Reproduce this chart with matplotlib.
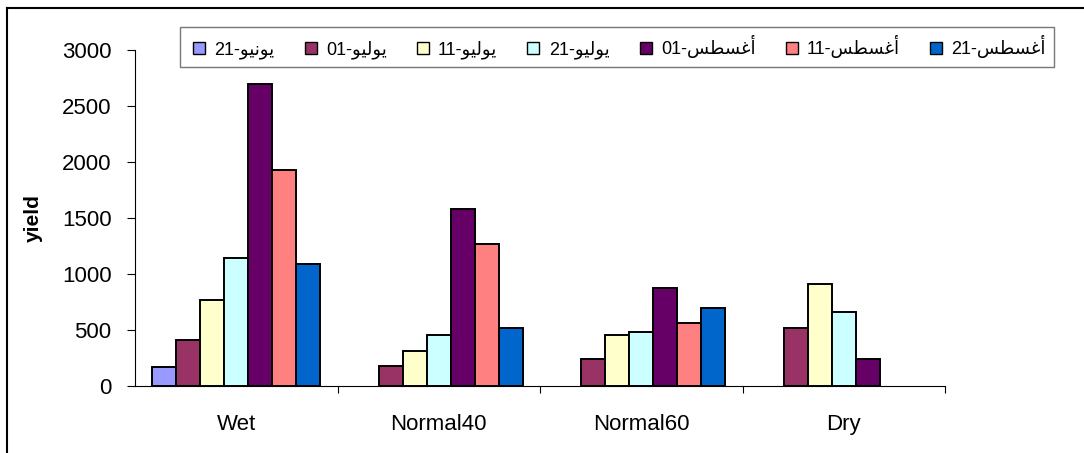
import numpy as np
import matplotlib.pyplot as plt
from matplotlib.lines import Line2D

plt.rcParams['font.family'] = ['Liberation Sans', 'DejaVu Sans']

categories = ['Wet', 'Normal40', 'Normal60', 'Dry']
months = ['يونيو', 'يوليو', 'يوليو', 'يوليو', 'أغسطس', 'أغسطس', 'أغسطس']
days = ['21', '01', '11', '21', '01', '11', '21']
colors = ['#9999FF', '#993366', '#FFFFCC', '#CCFFFF', '#660066', '#FF8080', '#0066CC']

# None = no bar for that date
jun21 = [170, None, None, None]
jul01 = [413, 176, 238, 521]
jul11 = [771, 310, 452, 908]
jul21 = [1146, 455, 485, 664]
aug01 = [2699, 1577, 878, 238]
aug11 = [1926, 1265, 560, None]
aug21 = [1086, 521, 696, None]
series = [jun21, jul01, jul11, jul21, aug01, aug11, aug21]

# presentation forms: isolated, final, initial, medial
FORMS = {
    'ي': ('\uFEF1', '\uFEF2', '\uFEF3', '\uFEF4'),
    'و': ('\uFEED', '\uFEEE', None, None),
    'ن': ('\uFEE5', '\uFEE6', '\uFEE7', '\uFEE8'),
    'ل': ('\uFEDD', '\uFEDE', '\uFEDF', '\uFEE0'),
    'أ': ('\uFE83', '\uFE84', None, None),
    'غ': ('\uFECD', '\uFECE', '\uFECF', '\uFED0'),
    'س': ('\uFEB1', '\uFEB2', '\uFEB3', '\uFEB4'),
    'ط': ('\uFEC1', '\uFEC2', '\uFEC3', '\uFEC4'),
}


def shape(word):
    out = []
    n = len(word)
    for i, ch in enumerate(word):
        f = FORMS[ch]
        prev = i > 0 and FORMS[word[i - 1]][2] is not None
        nxt = i < n - 1 and f[2] is not None
        if prev and nxt:
            g = f[3]
        elif prev:
            g = f[1]
        elif nxt:
            g = f[2]
        else:
            g = f[0]
        out.append(g)
    return ''.join(reversed(out))


labels = [d + '-' + shape(m) for m, d in zip(months, days)]

fig = plt.figure(figsize=(10.84, 4.53), dpi=100)
W, H = 1084, 453
ax = fig.add_axes([135 / W, 1 - 386 / H, (945 - 135) / W, (386 - 50) / H])

x = np.arange(len(categories))
bw = 0.83 / 7
for k, vals in enumerate(series):
    xs = [x[i] + (k - 3) * bw for i, v in enumerate(vals) if v is not None]
    hs = [v for v in vals if v is not None]
    ax.bar(xs, hs, bw, color=colors[k], edgecolor='black',
           linewidth=1.4, zorder=3)

ax.set_xlim(-0.5, len(categories) - 0.5)
ax.set_ylim(0, 3000)
ax.set_yticks(range(0, 3001, 500))
ax.set_xticks(x)
ax.set_xticklabels(categories, fontsize=16)
ax.tick_params(axis='x', length=0, pad=20)
ax.tick_params(axis='y', labelsize=16, length=6, width=0.8, pad=11)
ax.set_xticks(np.arange(0.5, len(categories), 1), minor=True)
ax.tick_params(axis='x', which='minor', length=5, width=0.8, direction='out')
for s in ['top', 'right']:
    ax.spines[s].set_visible(False)
ax.spines['left'].set_linewidth(0.8)
ax.spines['bottom'].set_linewidth(0.8)
ax.set_ylabel('yield', fontsize=15, fontweight='bold', labelpad=14)

handles = [Line2D([], [], marker='s', linestyle='none', markersize=8,
                  markerfacecolor=c, markeredgecolor='black', markeredgewidth=1)
           for c in colors]
leg = fig.legend(handles, labels, loc='upper left', ncol=7,
                 bbox_to_anchor=(180 / W, 1 - 27 / H), borderaxespad=0,
                 fontsize=13, frameon=True, fancybox=False, handlelength=1.2,
                 handletextpad=0.25, columnspacing=1.4, borderpad=0.45)
leg.get_frame().set_edgecolor('#555555')
leg.get_frame().set_linewidth(1)

# outer frame, only top and left edges fall inside the image
fig.add_artist(Line2D([7 / W, 1], [1 - 8 / H, 1 - 8 / H], color='black', lw=1.5))
fig.add_artist(Line2D([7 / W, 7 / W], [0, 1 - 8 / H], color='black', lw=1.5))

fig.savefig('out.png', dpi=100)
